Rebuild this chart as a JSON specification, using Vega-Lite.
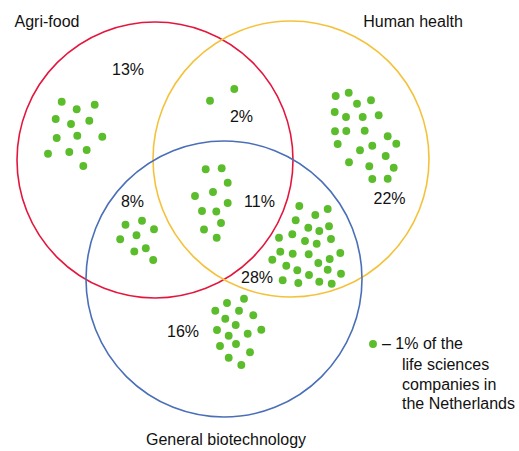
{
  "$schema": "https://vega.github.io/schema/vega-lite/v6.json",
  "width": 519,
  "height": 451,
  "padding": 0,
  "autosize": {"type": "fit", "contains": "padding"},
  "background": "white",
  "config": {"view": {"stroke": null}},
  "datasets": {
    "circles": [
      {"set": "Agri-food", "cx": 155, "cy": 160},
      {"set": "Human health", "cx": 291, "cy": 159},
      {"set": "General biotechnology", "cx": 224, "cy": 279}
    ],
    "dots": [
      {"region": "Agri-food only", "x": 61.7, "y": 101.7},
      {"region": "Agri-food only", "x": 76.7, "y": 109.3},
      {"region": "Agri-food only", "x": 94.7, "y": 104.7},
      {"region": "Agri-food only", "x": 55.7, "y": 119},
      {"region": "Agri-food only", "x": 71, "y": 124},
      {"region": "Agri-food only", "x": 89.3, "y": 120.7},
      {"region": "Agri-food only", "x": 56.7, "y": 138},
      {"region": "Agri-food only", "x": 77.3, "y": 135.7},
      {"region": "Agri-food only", "x": 102.3, "y": 136.7},
      {"region": "Agri-food only", "x": 48, "y": 153.7},
      {"region": "Agri-food only", "x": 69.3, "y": 152},
      {"region": "Agri-food only", "x": 86.7, "y": 150},
      {"region": "Agri-food only", "x": 83.3, "y": 166},
      {"region": "Agri-food + Human health", "x": 210, "y": 100.7},
      {"region": "Agri-food + Human health", "x": 234.3, "y": 89},
      {"region": "All three", "x": 205.7, "y": 169.3},
      {"region": "All three", "x": 221.7, "y": 168.3},
      {"region": "All three", "x": 227.7, "y": 182.7},
      {"region": "All three", "x": 195, "y": 196},
      {"region": "All three", "x": 213, "y": 192},
      {"region": "All three", "x": 227.7, "y": 203},
      {"region": "All three", "x": 202, "y": 211},
      {"region": "All three", "x": 216.3, "y": 211.5},
      {"region": "All three", "x": 221, "y": 223},
      {"region": "All three", "x": 204, "y": 229.5},
      {"region": "All three", "x": 216.7, "y": 237.7},
      {"region": "Agri-food + General biotechnology", "x": 125.5, "y": 224.8},
      {"region": "Agri-food + General biotechnology", "x": 142, "y": 220.7},
      {"region": "Agri-food + General biotechnology", "x": 154, "y": 229.3},
      {"region": "Agri-food + General biotechnology", "x": 120.2, "y": 239.3},
      {"region": "Agri-food + General biotechnology", "x": 136.5, "y": 235.3},
      {"region": "Agri-food + General biotechnology", "x": 145.8, "y": 248.3},
      {"region": "Agri-food + General biotechnology", "x": 134.3, "y": 251.5},
      {"region": "Agri-food + General biotechnology", "x": 153.2, "y": 260},
      {"region": "General biotechnology only", "x": 244, "y": 298.7},
      {"region": "General biotechnology only", "x": 227, "y": 303},
      {"region": "General biotechnology only", "x": 215.3, "y": 310.7},
      {"region": "General biotechnology only", "x": 239, "y": 310.7},
      {"region": "General biotechnology only", "x": 253.3, "y": 315.3},
      {"region": "General biotechnology only", "x": 225.3, "y": 318.7},
      {"region": "General biotechnology only", "x": 235.7, "y": 325},
      {"region": "General biotechnology only", "x": 261.3, "y": 329.7},
      {"region": "General biotechnology only", "x": 217, "y": 330},
      {"region": "General biotechnology only", "x": 228.7, "y": 335.7},
      {"region": "General biotechnology only", "x": 247.7, "y": 333.7},
      {"region": "General biotechnology only", "x": 236, "y": 344},
      {"region": "General biotechnology only", "x": 220, "y": 346},
      {"region": "General biotechnology only", "x": 250, "y": 352.3},
      {"region": "General biotechnology only", "x": 228.7, "y": 357.7},
      {"region": "General biotechnology only", "x": 241.3, "y": 365},
      {"region": "Human health only", "x": 335.7, "y": 96},
      {"region": "Human health only", "x": 348.7, "y": 92.7},
      {"region": "Human health only", "x": 357, "y": 103.7},
      {"region": "Human health only", "x": 371, "y": 100.3},
      {"region": "Human health only", "x": 334.7, "y": 112},
      {"region": "Human health only", "x": 346, "y": 117},
      {"region": "Human health only", "x": 362.7, "y": 117},
      {"region": "Human health only", "x": 378.7, "y": 115.3},
      {"region": "Human health only", "x": 335, "y": 131.3},
      {"region": "Human health only", "x": 346.3, "y": 131},
      {"region": "Human health only", "x": 364.7, "y": 130.7},
      {"region": "Human health only", "x": 337.7, "y": 144},
      {"region": "Human health only", "x": 387.7, "y": 136.3},
      {"region": "Human health only", "x": 396.3, "y": 143.7},
      {"region": "Human health only", "x": 372.3, "y": 145.7},
      {"region": "Human health only", "x": 360, "y": 150.3},
      {"region": "Human health only", "x": 385.7, "y": 156},
      {"region": "Human health only", "x": 349, "y": 162.3},
      {"region": "Human health only", "x": 369.3, "y": 166.3},
      {"region": "Human health only", "x": 393.7, "y": 167.7},
      {"region": "Human health only", "x": 372.3, "y": 179},
      {"region": "Human health only", "x": 387.7, "y": 178.7},
      {"region": "Human health + General biotechnology", "x": 299.3, "y": 206},
      {"region": "Human health + General biotechnology", "x": 327.7, "y": 209},
      {"region": "Human health + General biotechnology", "x": 315.3, "y": 215},
      {"region": "Human health + General biotechnology", "x": 295.7, "y": 220.3},
      {"region": "Human health + General biotechnology", "x": 308.3, "y": 227.7},
      {"region": "Human health + General biotechnology", "x": 319.3, "y": 231},
      {"region": "Human health + General biotechnology", "x": 329, "y": 226.3},
      {"region": "Human health + General biotechnology", "x": 279, "y": 237.7},
      {"region": "Human health + General biotechnology", "x": 292.3, "y": 234.3},
      {"region": "Human health + General biotechnology", "x": 305, "y": 241},
      {"region": "Human health + General biotechnology", "x": 316.7, "y": 243.7},
      {"region": "Human health + General biotechnology", "x": 331, "y": 239},
      {"region": "Human health + General biotechnology", "x": 280.3, "y": 251.7},
      {"region": "Human health + General biotechnology", "x": 292.7, "y": 253.7},
      {"region": "Human health + General biotechnology", "x": 308.7, "y": 254.3},
      {"region": "Human health + General biotechnology", "x": 340.3, "y": 253},
      {"region": "Human health + General biotechnology", "x": 272.3, "y": 259.7},
      {"region": "Human health + General biotechnology", "x": 329.7, "y": 259},
      {"region": "Human health + General biotechnology", "x": 318.3, "y": 263},
      {"region": "Human health + General biotechnology", "x": 286.3, "y": 265.7},
      {"region": "Human health + General biotechnology", "x": 297.3, "y": 270.3},
      {"region": "Human health + General biotechnology", "x": 327.7, "y": 269.7},
      {"region": "Human health + General biotechnology", "x": 309, "y": 275},
      {"region": "Human health + General biotechnology", "x": 341, "y": 273.7},
      {"region": "Human health + General biotechnology", "x": 282.7, "y": 280.3},
      {"region": "Human health + General biotechnology", "x": 298.3, "y": 283},
      {"region": "Human health + General biotechnology", "x": 319.3, "y": 281.7},
      {"region": "Human health + General biotechnology", "x": 331.7, "y": 283.7},
      {"region": "legend", "x": 373, "y": 344}
    ],
    "labels": [
      {"text": "Agri-food", "x": 47, "y": 22},
      {"text": "Human health", "x": 413, "y": 22},
      {"text": "General biotechnology", "x": 226, "y": 440},
      {"text": "13%", "x": 128, "y": 70},
      {"text": "2%", "x": 241.5, "y": 117},
      {"text": "8%", "x": 132.5, "y": 202},
      {"text": "11%", "x": 259.5, "y": 202},
      {"text": "22%", "x": 389.5, "y": 199},
      {"text": "28%", "x": 257, "y": 278},
      {"text": "16%", "x": 183, "y": 332}
    ],
    "legendText": [
      {"text": "– 1% of the", "x": 382, "y": 344},
      {"text": "life sciences", "x": 402, "y": 365},
      {"text": "companies in", "x": 402, "y": 385},
      {"text": "the Netherlands", "x": 402, "y": 404}
    ]
  },
  "layer": [
    {
      "data": {"name": "circles"},
      "mark": {"type": "point", "shape": "circle", "filled": false, "size": 76176, "strokeWidth": 1.6, "opacity": 1},
      "encoding": {
        "x": {"field": "cx", "type": "quantitative", "scale": {"domain": [0, 519], "nice": false, "zero": false}, "axis": null},
        "y": {"field": "cy", "type": "quantitative", "scale": {"domain": [0, 451], "nice": false, "zero": false, "reverse": true}, "axis": null},
        "color": {"field": "set", "type": "nominal", "scale": {"domain": ["Agri-food", "Human health", "General biotechnology"], "range": ["#e3173e", "#f4c23a", "#4a6fb8"]}, "legend": null}
      }
    },
    {
      "data": {"name": "dots"},
      "mark": {"type": "point", "shape": "circle", "filled": true, "size": 62, "color": "#5cbd2c", "opacity": 1},
      "encoding": {
        "x": {"field": "x", "type": "quantitative"},
        "y": {"field": "y", "type": "quantitative"}
      }
    },
    {
      "data": {"name": "labels"},
      "mark": {"type": "text", "font": "Liberation Sans", "fontSize": 16, "align": "center", "baseline": "middle", "color": "#111111"},
      "encoding": {
        "x": {"field": "x", "type": "quantitative"},
        "y": {"field": "y", "type": "quantitative"},
        "text": {"field": "text"}
      }
    },
    {
      "data": {"name": "legendText"},
      "mark": {"type": "text", "font": "Liberation Sans", "fontSize": 16, "align": "left", "baseline": "middle", "color": "#111111"},
      "encoding": {
        "x": {"field": "x", "type": "quantitative"},
        "y": {"field": "y", "type": "quantitative"},
        "text": {"field": "text"}
      }
    }
  ]
}
